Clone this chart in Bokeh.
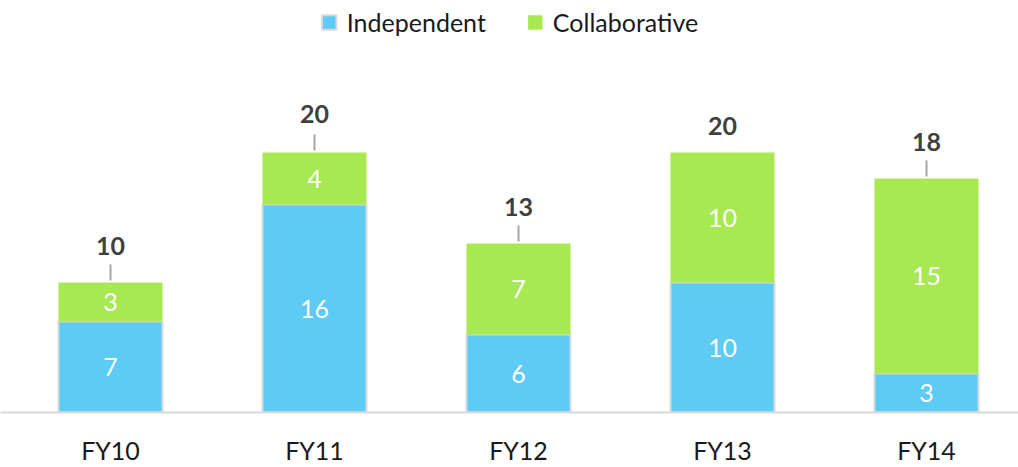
from bokeh.plotting import figure
from bokeh.models import ColumnDataSource, Range1d, FixedTicker
from bokeh.core.properties import value
from bokeh.embed import file_html
from bokeh.resources import INLINE

years = ["FY10", "FY11", "FY12", "FY13", "FY14"]
independent = [7, 16, 6, 10, 3]
collaborative = [3, 4, 7, 10, 15]
totals = [10, 20, 13, 20, 18]

BLUE = "#5DCBF3"
GREEN = "#A8E852"
GRAY = "#D9D9D9"
FONT = "Lato"

W, H = 1018, 467
BOTTOM = 55
frame_h = H - BOTTOM
PX = 13.0
y_end = frame_h / PX
UNIT = 204.0
x_start = -110.0 / UNIT
x_end = x_start + W / UNIT

xs = list(range(len(years)))
src = ColumnDataSource(dict(x=xs, independent=independent, collaborative=collaborative))

p = figure(width=W, height=H, output_backend="svg", toolbar_location=None,
           x_range=Range1d(x_start, x_end), y_range=Range1d(0, y_end),
           min_border_left=0, min_border_right=0, min_border_top=0,
           min_border_bottom=BOTTOM)
p.outline_line_color = None
p.xgrid.visible = False
p.ygrid.visible = False
p.yaxis.visible = False

p.vbar_stack(["independent", "collaborative"], x="x", width=0.51, source=src,
             color=[BLUE, GREEN], line_color=[GRAY, None], line_width=2,
             legend_label=["Independent", "Collaborative"])

# segment labels
mid_i = [v / 2 for v in independent]
mid_c = [a + b / 2 for a, b in zip(independent, collaborative)]
p.text(x=xs, y=mid_i, text=[str(v) for v in independent], text_align="center",
       text_baseline="middle", text_color="white", text_font=value(FONT),
       text_font_size="25px")
p.text(x=xs, y=mid_c, text=[str(v) for v in collaborative], text_align="center",
       text_baseline="middle", text_color="white", text_font=value(FONT),
       text_font_size="25px")

# totals with leader lines
label_off_px = [37, 39, 37, 27, 37]
show_leader = [True, True, True, False, True]
ty = [t + o / PX for t, o in zip(totals, label_off_px)]
p.text(x=xs, y=ty, text=[str(t) for t in totals], text_align="center",
       text_baseline="middle", text_color="#404040", text_font=value(FONT),
       text_font_size="25px", text_font_style="bold")
lx = [x for x, s in zip(xs, show_leader) if s]
lt = [t for t, s in zip(totals, show_leader) if s]
p.segment(x0=lx, x1=lx, y0=[t + 2 / PX for t in lt], y1=[t + 18 / PX for t in lt],
          line_color="#A6A6A6", line_width=2)

ax = p.xaxis[0]
ax.ticker = FixedTicker(ticks=xs)
ax.major_label_overrides = {i: y for i, y in zip(xs, years)}
ax.axis_line_color = GRAY
ax.axis_line_width = 2
ax.major_tick_line_color = None
ax.minor_tick_line_color = None
ax.major_tick_out = 0
ax.major_tick_in = 0
ax.major_label_standoff = 22
ax.major_label_text_font = FONT
ax.major_label_text_font_size = "25px"
ax.major_label_text_color = "#1a1a1a"

lg = p.legend[0]
lg.location = "top_center"
lg.orientation = "horizontal"
lg.border_line_color = None
lg.background_fill_alpha = 0
lg.label_text_font = FONT
lg.label_text_font_size = "25px"
lg.label_text_color = "#1a1a1a"
lg.glyph_width = 18
lg.glyph_height = 18
lg.label_standoff = 9
lg.spacing = 40
lg.padding = 0
lg.margin = 7

open("out.html", "w").write(file_html(p, INLINE))
